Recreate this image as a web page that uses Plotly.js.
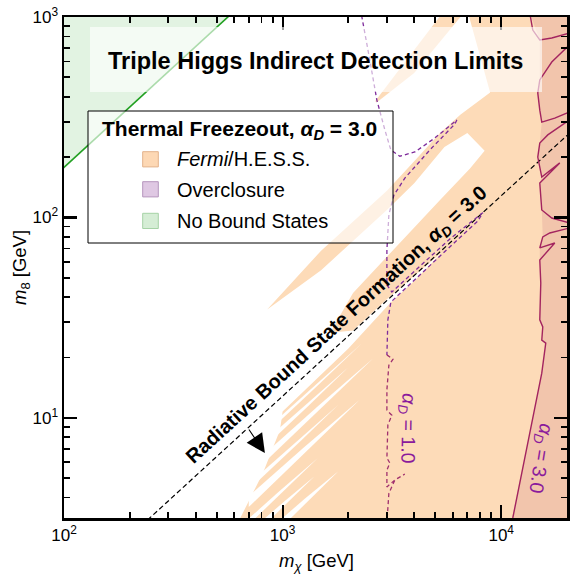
<!DOCTYPE html>
<html>
<head>
<meta charset="utf-8">
<script src="https://cdn.plot.ly/plotly-3.0.1.min.js"></script>
<style>
html,body{margin:0;padding:0;background:#fff;}
#chart{width:574px;height:579px;}
</style>
</head>
<body>
<div id="chart"></div>
<script>
// Masses in GeV: m_chi on the x axis, m_8 on the y axis.

// No bound states (upper-left triangle) and its edge
const NBS_X = [80, 80, 618];
const NBS_Y = [142, 1100, 1100];
const NBS_EDGE_X = [80, 618];
const NBS_EDGE_Y = [142, 1100];

// Fermi/H.E.S.S. excluded region (outer boundary)
const FERMI_X = [7000, 25000, 25000, 625, 813, 973, 1000, 2000, 3100, 4000, 5410,
                 3000, 2100, 1650, 2100, 3000, 5239, 7200, 8400,
                 7000, 5500, 4000, 3000, 1500, 850,
                 1500, 3000, 4000, 5239, 6500, 8900];
const FERMI_Y = [1080, 1100, 3, 3, 5.3, 8.69, 10.75, 22.2, 37.3, 48.2, 67.6,
                 39, 27.3, 26.6, 42, 63.8, 121.8, 175.6, 215,
                 264, 224.5, 148, 109, 54.5, 34.7,
                 68.2, 136, 190.5, 263, 325, 420];
// thin Fermi/H.E.S.S. strip near the top
const FERMI_STRIP_X = [2650, 5500, 6900, 4000, 2700];
const FERMI_STRIP_Y = [380, 1080, 1080, 526, 375];
// allowed streaks cutting into the excluded region
const GAP_X = [
  [900, 1440, 2300, 1440, 900],
  [850, 1300, 2000, 1300, 850],
  [800, 1450, 2600, 1450, 800],
  [780, 1200, 1800, 1200, 780],
  [700, 1250, 2254, 1250, 700],
  [640, 960, 1450, 960, 640],
  [760, 1030, 1400, 1030, 760],
  [900, 1270, 1800, 1270, 900]
];
const GAP_Y = [
  [9.375, 14.9, 23.47, 14.4, 8.91],
  [7.87, 11.87, 17.86, 11.35, 7.33],
  [6.40, 11.42, 19.85, 10.74, 5.80],
  [5.20, 7.89, 11.61, 7.59, 4.875],
  [4.07, 7.10, 12.3, 6.58, 3.59],
  [2.88, 4.27, 6.30, 4.07, 2.67],
  [2.90, 3.87, 5.11, 3.68, 2.67],
  [2.86, 3.97, 5.41, 3.70, 2.57]
];

// Overclosure region, alpha_D = 3.0
const OC3_X = [13500, 15014, 15014, 14700, 15014, 15332, 15014, 14700, 15332, 15014, 15173, 15332,
               15495, 15014, 15014, 15173, 15014, 15495, 15332, 15991, 15332, 11298, 11065, 21000, 21000];
const OC3_Y = [1050, 768, 485, 418, 343, 299, 235, 200, 159, 148.5, 122.1, 108.9,
               79.9, 70.4, 61.3, 47.1, 30.8, 28.4, 24.4, 23.6, 16.7, 3.162, 2.92, 2.92, 1050];
// its boundary contour (pieces leave through the right edge)
const OC3_EDGE_X = [13500, 13947, 15014, 17035, 20500, null,
                    20500, 17035, 15014, 14700, 15014, 15332, 17583, 20500, null,
                    20500, 16333, 15014, 14700, 15332, 18535, 15014, 15173, 15332, 17035, 20500, null,
                    20500, 16681, 15495, 15014, 17583, 15014, 15173, 15014, 15495, 15332, 15991, 15332, 11298, 11065];
const OC3_EDGE_Y = [1050, 861, 768, 786, 832, null,
                    725, 596, 485, 418, 343, 299, 313, 336, null,
                    306, 258, 235, 200, 159, 187, 148.5, 122.1, 108.9, 99.3, 93.8, null,
                    88.5, 83.6, 79.9, 70.4, 74.5, 61.3, 47.1, 30.8, 28.4, 24.4, 23.6, 16.7, 3.162, 2.92];

// Contour for alpha_D = 1.0
const A1_UPPER_X = [2250, 2305, 2506, 2699, 2937, 3128, 3438, 4027, 4971, 6266, 6135, 4716, 3624, 3228,
                    3063, 3000, 3000, 3161, 4245, 5821, 8240, 7816, 5239, 3624, 3128, 3031, 3000];
const A1_UPPER_Y = [1100, 1000, 610, 385, 273, 217, 202, 212, 249, 306, 292, 217, 157, 129,
                    103, 68.8, 46.0, 42.4, 57.0, 78.1, 105.6, 95.9, 64.0, 44.2, 37.8, 30.8, 20.6];
const A1_LOWER_X = [3000, 3200, 3063, 3000, 3000, 3161, 3031, 3000, 3095, 3000, 3000, 3262, 3624, 3262, 3063, 3000];
const A1_LOWER_Y = [20.6, 19.6, 18.3, 13.8, 10.9, 10.3, 9.21, 6.30, 5.95, 5.49, 4.52, 4.89, 5.24, 4.89, 4.2, 3.0];

// Radiative bound state formation threshold, alpha_D = 3.0
const RBSF_X = [200, 25000];
const RBSF_Y = [2.564, 320.5];

// Label anchors (m_chi, m_8)
const RBSF_LABEL_AT = [1771, 29.0];
const A1_LABEL_AT = [3741, 8.89];
const A3_LABEL_AT = [15020, 6.31];
const ARROW_TIP = [830, 6.67];

// Axis ticks
const X_TICKS = [100, 1000, 10000];
const X_TICKTEXT = ['10<sup>2</sup>', '10<sup>3</sup>', '10<sup>4</sup>'];
const X_MINOR = [200, 300, 400, 500, 600, 700, 800, 900, 2000, 3000, 4000, 5000, 6000, 7000, 8000, 9000];
const Y_TICKS = [10, 100, 1000];
const Y_TICKTEXT = ['10<sup>1</sup>', '10<sup>2</sup>', '10<sup>3</sup>'];
const Y_MINOR = [4, 5, 6, 7, 8, 9, 20, 30, 40, 50, 60, 70, 80, 90, 200, 300, 400, 500, 600, 700, 800, 900];

// Legend entries
const LEGEND_LABELS = ['<i>Fermi</i>/H.E.S.S.', 'Overclosure', 'No Bound States'];
const LEGEND_FILLS = ['#fdd8b4', '#dfc8e3', '#d5edd5'];
const LEGEND_EDGES = ['#e3b28a', '#b596bd', '#a6d2a6'];

const FONT = 'Liberation Sans, Arial, Helvetica, sans-serif';
const ORANGE = '#fddbb8';

function region(x, y, color) {
  return {x: x, y: y, type: 'scatter', mode: 'lines', fill: 'toself', fillcolor: color,
          line: {width: 0, color: color}, hoverinfo: 'skip', showlegend: false};
}
function curve(x, y, color, width, dash) {
  return {x: x, y: y, type: 'scatter', mode: 'lines', connectgaps: false,
          line: {color: color, width: width, dash: dash || 'solid'}, hoverinfo: 'skip', showlegend: false};
}

const traces = [];
traces.push(region(NBS_X, NBS_Y, '#e2f3e2'));
traces.push(region(FERMI_X, FERMI_Y, ORANGE));
traces.push(region(FERMI_STRIP_X, FERMI_STRIP_Y, ORANGE));
for (let i = 0; i < GAP_X.length; i++) traces.push(region(GAP_X[i], GAP_Y[i], '#ffffff'));
traces.push(region(OC3_X, OC3_Y, '#f2c5ac'));
traces.push(curve(NBS_EDGE_X, NBS_EDGE_Y, '#22a022', 1.6));
traces.push(curve(RBSF_X, RBSF_Y, '#000000', 1.2, '5px,3px'));
traces.push(curve(A1_UPPER_X, A1_UPPER_Y, '#7e2b9b', 1.3, '4px,3px'));
traces.push(curve(A1_LOWER_X, A1_LOWER_Y, '#a0306e', 1.3, '4px,3px'));
traces.push(curve(OC3_EDGE_X, OC3_EDGE_Y, '#a3245f', 1.4));

// plot area in pixels: x 64..567, y 17..518
const PX = v => (v - 64) / 503;
const PY = v => (518 - v) / 501;

const shapes = [
  {type: 'rect', xref: 'paper', yref: 'paper', x0: PX(90), x1: PX(542), y0: PY(92), y1: PY(27),
   fillcolor: 'rgba(255,255,255,0.62)', line: {width: 0}, layer: 'above'},
  {type: 'rect', xref: 'paper', yref: 'paper', x0: PX(88), x1: PX(393), y0: PY(243), y1: PY(111),
   fillcolor: 'rgba(255,255,255,0.62)', line: {width: 1, color: '#000'}, layer: 'above'}
];
const SWATCH_TOP = [151.7, 181.7, 213.3];
const TEXT_MID = [159.5, 189.8, 221];
const annotations = [];
for (let i = 0; i < LEGEND_LABELS.length; i++) {
  shapes.push({type: 'rect', xref: 'paper', yref: 'paper', x0: PX(142.7), x1: PX(158.3),
               y0: PY(SWATCH_TOP[i] + 15.2), y1: PY(SWATCH_TOP[i]),
               fillcolor: LEGEND_FILLS[i], line: {width: 1, color: LEGEND_EDGES[i]}, layer: 'above'});
  annotations.push({xref: 'paper', yref: 'paper', x: PX(175), y: PY(TEXT_MID[i]), xanchor: 'left', yanchor: 'middle',
                    text: LEGEND_LABELS[i], showarrow: false, font: {family: FONT, size: 20, color: '#000'}});
}
annotations.push({xref: 'paper', yref: 'paper', x: PX(100), y: PY(130), xanchor: 'left', yanchor: 'middle',
                  text: '<b>Thermal Freezeout, <i>α</i><sub><i>D</i></sub> = 3.0</b>', showarrow: false,
                  font: {family: FONT, size: 21, color: '#000'}});
annotations.push({xref: 'paper', yref: 'paper', x: PX(315), y: PY(61), xanchor: 'center', yanchor: 'middle',
                  text: '<b>Triple Higgs Indirect Detection Limits</b>', showarrow: false,
                  font: {family: FONT, size: 23.5, color: '#000'}});
annotations.push({xref: 'paper', yref: 'paper', x: PX(316), y: PY(562), xanchor: 'center', yanchor: 'middle',
                  text: '<i>m</i><sub><i>χ</i></sub> [GeV]', showarrow: false,
                  font: {family: FONT, size: 18.5, color: '#000'}});
annotations.push({xref: 'paper', yref: 'paper', x: PX(21), y: PY(268), xanchor: 'center', yanchor: 'middle',
                  text: '<i>m</i><sub>8</sub> [GeV]', textangle: -90, showarrow: false,
                  font: {family: FONT, size: 18.5, color: '#000'}});
annotations.push({xref: 'x', yref: 'y', x: Math.log10(RBSF_LABEL_AT[0]), y: Math.log10(RBSF_LABEL_AT[1]),
                  xanchor: 'center', yanchor: 'middle', textangle: -42.5, showarrow: false,
                  text: '<b>Radiative Bound State Formation, <i>α</i><sub><i>D</i></sub> = 3.0</b>',
                  font: {family: FONT, size: 20, color: '#000'}});
annotations.push({xref: 'x', yref: 'y', x: Math.log10(A1_LABEL_AT[0]), y: Math.log10(A1_LABEL_AT[1]),
                  xanchor: 'center', yanchor: 'middle', textangle: 91, showarrow: false,
                  text: '<i>α</i><sub><i>D</i></sub> = 1.0', font: {family: FONT, size: 19.5, color: '#8a1a9c'}});
annotations.push({xref: 'x', yref: 'y', x: Math.log10(A3_LABEL_AT[0]), y: Math.log10(A3_LABEL_AT[1]),
                  xanchor: 'center', yanchor: 'middle', textangle: 99, showarrow: false,
                  text: '<i>α</i><sub><i>D</i></sub> = 3.0', font: {family: FONT, size: 19.5, color: '#8a1a9c'}});
annotations.push({xref: 'x', yref: 'y', x: Math.log10(ARROW_TIP[0]), y: Math.log10(ARROW_TIP[1]),
                  text: '', showarrow: true, arrowhead: 2, arrowsize: 3.4, arrowwidth: 1.1, arrowcolor: '#000',
                  ax: -17, ay: -25, standoff: 0});

const axisCommon = {
  type: 'log', showgrid: false, zeroline: false, showline: true, linecolor: '#000', linewidth: 2.5,
  mirror: 'ticks', ticks: 'inside', ticklen: 13, tickwidth: 2.2, tickcolor: '#000',
  tickfont: {family: FONT, size: 17, color: '#000'}
};
const layout = {
  width: 574, height: 579,
  margin: {l: 64, r: 7, t: 17, b: 61, pad: 0},
  paper_bgcolor: '#fff', plot_bgcolor: '#fff',
  showlegend: false,
  font: {family: FONT, color: '#000'},
  xaxis: Object.assign({}, axisCommon, {
    range: [2, Math.log10(20000)], tickmode: 'array', tickvals: X_TICKS, ticktext: X_TICKTEXT,
    minor: {tickmode: 'array', tickvals: X_MINOR, ticks: 'inside', ticklen: 6, tickwidth: 1.8, tickcolor: '#000'}
  }),
  yaxis: Object.assign({}, axisCommon, {
    range: [0.5, 3], tickmode: 'array', tickvals: Y_TICKS, ticktext: Y_TICKTEXT,
    minor: {tickmode: 'array', tickvals: Y_MINOR, ticks: 'inside', ticklen: 6, tickwidth: 1.8, tickcolor: '#000'}
  }),
  shapes: shapes,
  annotations: annotations
};

Plotly.newPlot('chart', traces, layout, {staticPlot: true, displayModeBar: false});
</script>
</body>
</html>
